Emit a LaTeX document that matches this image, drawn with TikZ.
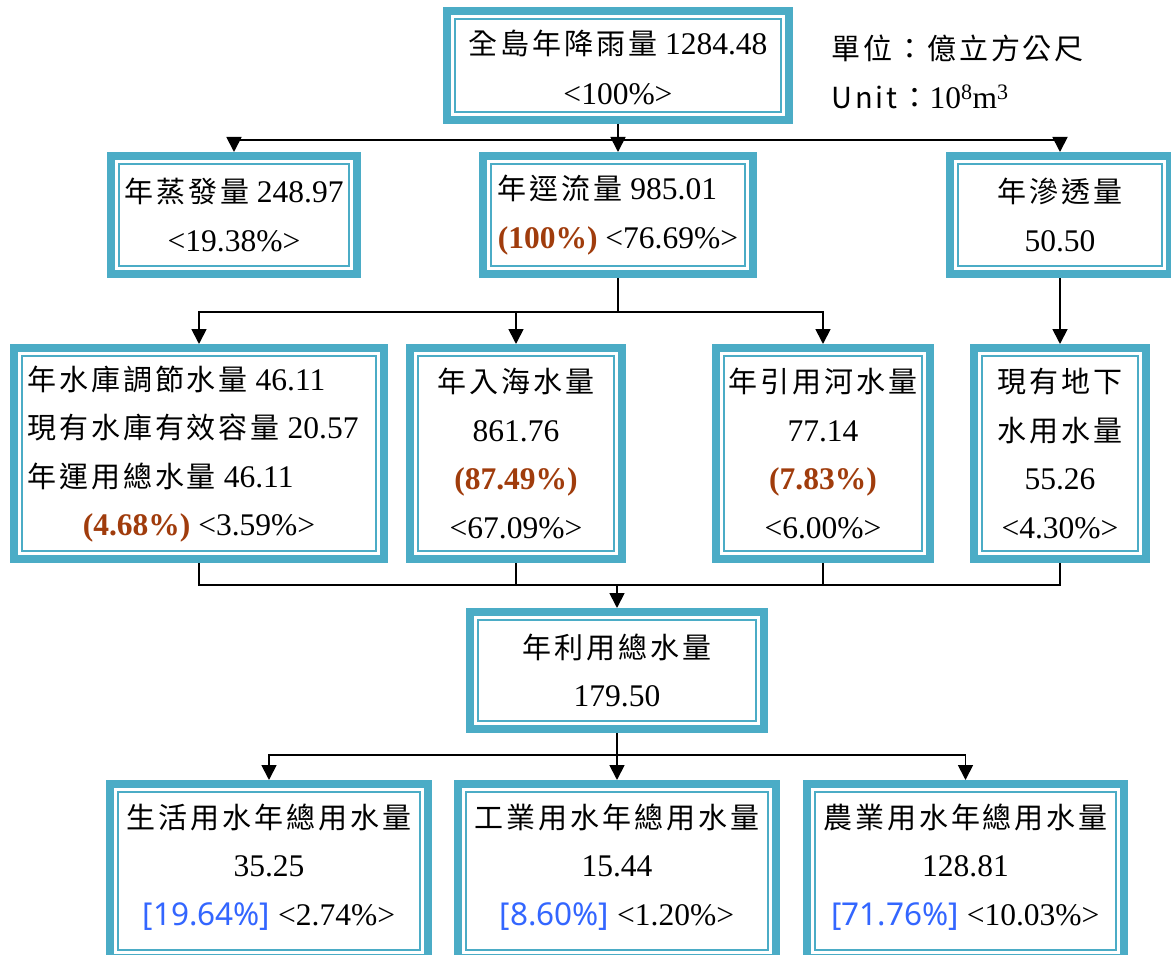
\documentclass[tikz,border=0pt]{standalone}
\usepackage{fontspec}
\setmainfont{Liberation Serif}
\newfontfamily\cjkfont[LetterSpace=10]{Noto Sans CJK TC}
\newfontfamily\bluefont{Noto Sans}
\usetikzlibrary{arrows.meta}
\definecolor{tealbox}{RGB}{75,172,198}
\definecolor{brownpct}{RGB}{160,60,12}
\definecolor{bluepct}{RGB}{51,102,255}
\newcommand\zh[1]{{\cjkfont\fontsize{29}{48.5}\selectfont #1}}
\newcommand\brn[1]{{\bfseries\color{brownpct}#1}}
\newcommand\blu[1]{{\bluefont\fontsize{31.5}{48.5}\selectfont\color{bluepct}#1}}
\tikzset{
  bx/.style={draw=tealbox, line width=8pt, fill=white, inner sep=0pt,
    font=\fontsize{31.5}{48.5}\selectfont,
    path picture={\draw[tealbox, line width=2pt]
      ([shift={(8pt,8pt)}]path picture bounding box.south west) rectangle
      ([shift={(-8pt,-8pt)}]path picture bounding box.north east);}},
  conn/.style={line width=1.8pt, black},
  arr/.style={conn, -{Triangle[width=15pt,length=15pt]}},
}
\begin{document}
\begin{tikzpicture}[x=1pt,y=-1pt]
\useasboundingbox (0,0) rectangle (1171,955);
\clip (0,0) rectangle (1171,955);
\fill[white] (0,0) rectangle (1171,955);

% row 1
\node[bx, minimum width=342pt, minimum height=109pt] (top) at (618,65.5)
  {\begin{tabular}{@{}c@{}}\noalign{\vskip 9pt}
   \zh{全島年降雨量} 1284.48\\[2pt]
   <100\%>
   \end{tabular}};
\node[anchor=west, align=left, font=\fontsize{31.5}{48.5}\selectfont] (unit) at (828,72)
  {\zh{單位：億立方公尺}\\\zh{Unit：}10\textsuperscript{8}m\textsuperscript{3}};

% row 2
\node[bx, minimum width=246pt, minimum height=118pt, align=center] (evap) at (234,215)
  {\zh{年蒸發量} 248.97\\<19.38\%>};
\node[bx, minimum width=270pt, minimum height=118pt, align=left] (runoff) at (618,215)
  {\zh{年逕流量} 985.01\\\brn{(100\%)} <76.69\%>};
\node[bx, minimum width=220pt, minimum height=118pt, align=center] (infil) at (1060,215)
  {\zh{年滲透量}\\50.50};

% row 3
\node[bx, minimum width=370pt, minimum height=211pt] (res) at (199,453.5)
  {\begin{tabular}{@{}l@{\hspace{12pt}}}
   \zh{年水庫調節水量} 46.11\\
   \zh{現有水庫有效容量} 20.57\\
   \zh{年運用總水量} 46.11\\
   \multicolumn{1}{@{}c@{}}{\brn{(4.68\%)} <3.59\%>}
   \end{tabular}};
\node[bx, minimum width=212pt, minimum height=211pt, align=center] (sea) at (516,453.5)
  {\zh{年入海水量}\\861.76\\\brn{(87.49\%)}\\<67.09\%>};
\node[bx, minimum width=214pt, minimum height=211pt, align=center] (river) at (823,453.5)
  {\zh{年引用河水量}\\77.14\\\brn{(7.83\%)}\\<6.00\%>};
\node[bx, minimum width=172pt, minimum height=211pt, align=center] (ground) at (1060,453.5)
  {\zh{現有地下}\\\zh{水用水量}\\55.26\\<4.30\%>};

% row 4
\node[bx, minimum width=294pt, minimum height=117pt, align=center] (use) at (617,670.5)
  {\zh{年利用總水量}\\179.50};

% row 5
\node[bx, minimum width=318pt, minimum height=174pt] (dom) at (269,871)
  {\begin{tabular}{@{}c@{}}
   \zh{生活用水年總用水量}\\35.25\\\blu{[19.64\%]} <2.74\%>\\
   \noalign{\vskip 8pt}
   \end{tabular}};
\node[bx, minimum width=318pt, minimum height=174pt] (ind) at (617,871)
  {\begin{tabular}{@{}c@{}}
   \zh{工業用水年總用水量}\\15.44\\\blu{[8.60\%]} <1.20\%>\\
   \noalign{\vskip 8pt}
   \end{tabular}};
\node[bx, minimum width=317pt, minimum height=174pt] (agr) at (965.5,871)
  {\begin{tabular}{@{}c@{}}
   \zh{農業用水年總用水量}\\128.81\\\blu{[71.76\%]} <10.03\%>\\
   \noalign{\vskip 8pt}
   \end{tabular}};

% junctions
\coordinate (j1) at (618,140);
\coordinate (j2) at (618,312);
\coordinate (j3) at (617,585);
\coordinate (j4) at (617,755);

% connectors
\draw[conn] (top) -- (j1);
\draw[arr] (j1) -| (evap);
\draw[arr] (j1) -- (runoff);
\draw[arr] (j1) -| (infil);

\draw[conn] (runoff) -- (j2);
\draw[arr] (j2) -| (res);
\draw[arr] (j2) -| (sea);
\draw[arr] (j2) -| (river);
\draw[arr] (infil) -- (ground);

\draw[conn] (res) |- (j3);
\draw[conn] (sea) |- (j3);
\draw[conn] (river) |- (j3);
\draw[conn] (ground) |- (j3);
\draw[arr] (j3) -- (use);

\draw[conn] (use) -- (j4);
\draw[arr] (j4) -| (dom);
\draw[arr] (j4) -- (ind);
\draw[arr] (j4) -| (agr);
\end{tikzpicture}
\end{document}
